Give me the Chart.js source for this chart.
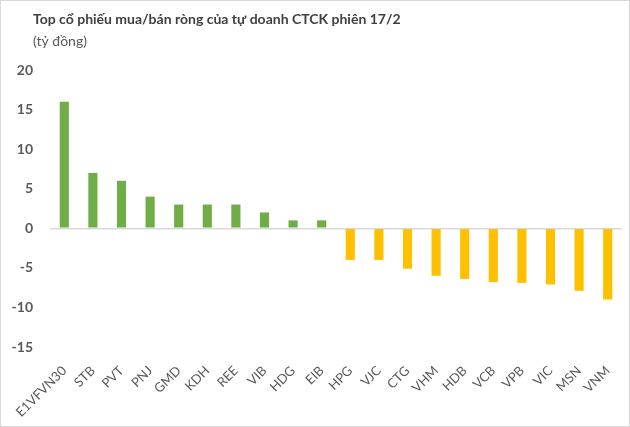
<!DOCTYPE html>
<html>
<head>
<meta charset="utf-8">
<script src="https://cdn.jsdelivr.net/npm/chart.js@4"></script>
<style>
  html, body { margin: 0; padding: 0; background: #fff; }
  #wrap { position: relative; width: 630px; height: 427px; }
</style>
</head>
<body>
<div id="wrap"><canvas id="chart" width="630" height="427"></canvas></div>
<script>
const categories = ["E1VFVN30", "STB", "PVT", "PNJ", "GMD", "KDH", "REE", "VIB", "HDG", "EIB",
  "HPG", "VJC", "CTG", "VHM", "HDB", "VCB", "VPB", "VIC", "MSN", "VNM"];
const netValues = [16, 7, 6, 4, 3, 3, 3, 2, 1, 1,
  -4, -4, -5.1, -6, -6.4, -6.8, -6.9, -7.1, -7.9, -9];
const yTicks = [-15, -10, -5, 0, 5, 10, 15, 20];
const titleText = "Top cổ phiếu mua/bán ròng của tự doanh CTCK phiên 17/2";
const subtitleText = "(tỷ đồng)";

const buyColor = "#70AD47";
const sellColor = "#FFC000";
const fontFamily = "Lato, 'Open Sans', sans-serif";

// title text + thin outer frame like the source image
const frameAndTitle = {
  id: "frameAndTitle",
  afterDraw(chart) {
    const ctx = chart.ctx;
    ctx.save();
    ctx.strokeStyle = "#d9d9d9";
    ctx.lineWidth = 1;
    ctx.strokeRect(0.5, 0.5, chart.width - 1, chart.height - 1);
    ctx.textBaseline = "alphabetic";
    ctx.textAlign = "left";
    ctx.fillStyle = "#404040";
    ctx.font = "bold 14px " + fontFamily;
    ctx.fillText(titleText, 33, 24);
    ctx.fillStyle = "#595959";
    ctx.font = "14px " + fontFamily;
    ctx.fillText(subtitleText, 33, 46);
    ctx.restore();
  },
};

const ctx = document.getElementById("chart").getContext("2d");
new Chart(ctx, {
  type: "bar",
  data: {
    labels: categories,
    datasets: [
      {
        data: netValues,
        backgroundColor: netValues.map((v) => (v >= 0 ? buyColor : sellColor)),
        borderWidth: 0,
        categoryPercentage: 1,
        barPercentage: 0.32,
      },
    ],
  },
  options: {
    responsive: false,
    animation: false,
    layout: {
      padding: { left: 0, right: 8, top: 70, bottom: 0 },
    },
    plugins: {
      legend: { display: false },
      tooltip: { enabled: false },
      title: { display: false },
    },
    scales: {
      x: {
        grid: { display: false },
        border: { display: false },
        ticks: {
          autoSkip: false,
          minRotation: 45,
          maxRotation: 45,
          color: "#595959",
          padding: 8,
          font: { size: 13, family: fontFamily },
        },
        afterFit(scale) {
          scale.height = 80;
        },
      },
      y: {
        min: -15,
        max: 20,
        border: { display: false },
        grid: {
          drawTicks: false,
          lineWidth: 1.5,
          color: (c) => (c.tick && c.tick.value === 0 ? "#d9d9d9" : "rgba(0,0,0,0)"),
        },
        afterBuildTicks(scale) {
          scale.ticks = yTicks.map((v) => ({ value: v }));
        },
        ticks: {
          color: "#595959",
          padding: 17,
          font: { size: 14, weight: "bold", family: fontFamily },
        },
        afterFit(scale) {
          scale.width = 50;
        },
      },
    },
  },
  plugins: [frameAndTitle],
});
</script>
</body>
</html>
